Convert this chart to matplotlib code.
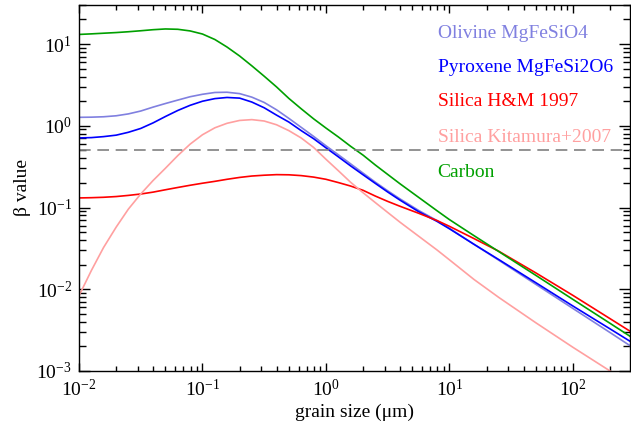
import numpy as np
import matplotlib
matplotlib.use('Agg')
import matplotlib.pyplot as plt
from matplotlib.ticker import LogLocator, NullFormatter

plt.rcParams['font.family'] = ['Liberation Serif', 'DejaVu Serif']
plt.rcParams['mathtext.fontset'] = 'stix'

# grain sizes (micron)
size = [0.01, 0.0126, 0.0158, 0.02, 0.0251, 0.0316, 0.0398, 0.0501, 0.0631, 0.0794,
        0.1, 0.126, 0.158, 0.2, 0.251, 0.316, 0.398, 0.501, 0.631, 0.794,
        1, 1.26, 1.58, 2, 2.51, 3.16, 3.98, 5.62, 7.94, 10,
        15.8, 25.1, 50.1, 100, 200, 290]

# log10(beta) per material
logb_olivine = [0.103, 0.105, 0.11, 0.122, 0.145, 0.18, 0.228, 0.272, 0.314, 0.355,
                0.385, 0.407, 0.41, 0.393, 0.35, 0.285, 0.195, 0.09, -0.02, -0.13,
                -0.245, -0.355, -0.465, -0.58, -0.69, -0.795, -0.895, -1.035, -1.16, -1.255,
                -1.45, -1.645, -1.94, -2.235, -2.53, -2.69]
logb_pyroxene = [-0.149, -0.145, -0.133, -0.115, -0.08, -0.033, 0.035, 0.113, 0.187, 0.25,
                 0.30, 0.332, 0.346, 0.338, 0.29, 0.22, 0.13, 0.045, -0.06, -0.158,
                 -0.27, -0.38, -0.49, -0.60, -0.705, -0.81, -0.91, -1.05, -1.17, -1.26,
                 -1.45, -1.637, -1.92, -2.205, -2.485, -2.636]
logb_silica_hm = [-0.883, -0.88, -0.875, -0.866, -0.852, -0.835, -0.812, -0.783, -0.755, -0.728,
                  -0.703, -0.68, -0.655, -0.632, -0.615, -0.605, -0.598, -0.60, -0.61, -0.628,
                  -0.655, -0.695, -0.737, -0.79, -0.86, -0.925, -0.985, -1.07, -1.16, -1.23,
                  -1.38, -1.535, -1.80, -2.075, -2.36, -2.513]
logb_silica_kit = [-2.08, -1.77, -1.49, -1.24, -1.02, -0.835, -0.67, -0.52, -0.365, -0.225,
                   -0.11, -0.025, 0.03, 0.065, 0.075, 0.058, 0.012, -0.06, -0.15, -0.265,
                   -0.41, -0.55, -0.69, -0.82, -0.94, -1.06, -1.18, -1.35, -1.52, -1.64,
                   -1.88, -2.10, -2.41, -2.71, -3.0, -3.17]
logb_carbon = [1.117, 1.124, 1.132, 1.14, 1.15, 1.162, 1.175, 1.184, 1.18, 1.16,
               1.122, 1.055, 0.963, 0.853, 0.733, 0.606, 0.475, 0.334, 0.207, 0.085,
               -0.028, -0.137, -0.25, -0.36, -0.48, -0.595, -0.71, -0.875, -1.04, -1.148,
               -1.344, -1.539, -1.83, -2.124, -2.417, -2.575]

beta_limit = 0.5

names = ['Olivine MgFeSiO4', 'Pyroxene MgFeSi2O6', 'Silica H&M 1997',
         'Silica Kitamura+2007', 'Carbon']
colors = ['#8080e0', '#0000ff', '#ff0000', '#ffa0a0', '#00a000']
series = [logb_olivine, logb_pyroxene, logb_silica_hm, logb_silica_kit, logb_carbon]

fig = plt.figure(figsize=(6.31, 4.24), dpi=100)
ax = fig.add_axes([79 / 631, 53 / 424, 551 / 631, 366 / 424])

for logb, c in zip(series, colors):
    ax.plot(size, 10.0 ** np.array(logb), color=c, lw=1.2)

ax.axhline(beta_limit, color='#808080', lw=1.2, dashes=(7, 4))

ax.set_xscale('log')
ax.set_yscale('log')
ax.set_xlim(0.01, 290)
ax.set_ylim(1e-3, 30)

ax.xaxis.set_major_locator(LogLocator(base=10, numticks=10))
ax.yaxis.set_major_locator(LogLocator(base=10, numticks=10))
ax.xaxis.set_minor_locator(LogLocator(base=10, subs=np.arange(2, 10), numticks=10))
ax.yaxis.set_minor_locator(LogLocator(base=10, subs=np.arange(2, 10), numticks=10))
ax.xaxis.set_minor_formatter(NullFormatter())
ax.yaxis.set_minor_formatter(NullFormatter())

ax.tick_params(which='both', direction='in', top=True, right=True, labelsize=14, width=1)
ax.tick_params(axis='x', which='major', length=6, pad=6)
ax.tick_params(axis='x', which='minor', length=3.5)
ax.tick_params(axis='y', which='major', length=8, pad=5)
ax.tick_params(axis='y', which='minor', length=5)
for sp in ax.spines.values():
    sp.set_linewidth(1)

ax.set_xlabel('grain size (μm)', fontsize=14, labelpad=2)
ax.set_ylabel('β value', fontsize=14, labelpad=4)

ypos = [0.923, 0.828, 0.735, 0.639, 0.541]
for name, c, yy in zip(names, colors, ypos):
    ax.text(0.651, yy, name, color=c, fontsize=14, transform=ax.transAxes,
            ha='left', va='center')

fig.savefig('out.png', dpi=100)
